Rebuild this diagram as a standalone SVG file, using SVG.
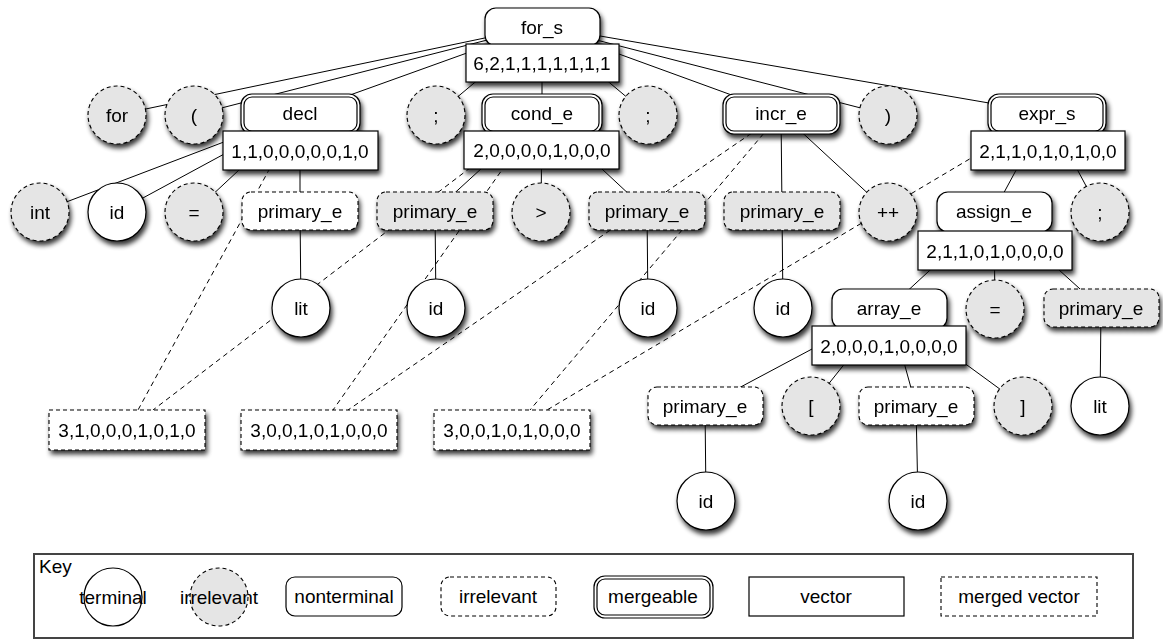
<svg xmlns="http://www.w3.org/2000/svg" width="1163" height="642" viewBox="0 0 1163 642">
<defs>
<style>
.t{font-family:"Liberation Sans",Arial,Helvetica,sans-serif;font-size:19px;text-anchor:middle;fill:#000}
.tl{font-family:"Liberation Sans",Arial,Helvetica,sans-serif;font-size:19px;text-anchor:start;fill:#000}
.term{fill:#fff;stroke:#000;stroke-width:1.2}
.irr{fill:#e5e5e5;stroke:#000;stroke-width:1.1;stroke-dasharray:4 3}
.nt{fill:#fff;stroke:#000;stroke-width:1.2}
.irrw{fill:#fff;stroke:#000;stroke-width:1.1;stroke-dasharray:4 3}
.irrg{fill:#e5e5e5;stroke:#000;stroke-width:1.1;stroke-dasharray:4 3}
.vec{fill:#fff;stroke:#000;stroke-width:1.2}
.mvec{fill:#fff;stroke:#000;stroke-width:1.1;stroke-dasharray:4 3}
.mo{fill:#fff;stroke:#000;stroke-width:1.2}
.mi{fill:none;stroke:#000;stroke-width:1.2}
.e{stroke:#000;stroke-width:1;fill:none}
.d{stroke:#000;stroke-width:1;fill:none;stroke-dasharray:5 4}
</style>
<filter id="ds" x="-30%" y="-30%" width="170%" height="180%">
<feGaussianBlur in="SourceAlpha" stdDeviation="2.5"/>
<feOffset dx="2" dy="4"/>
<feComponentTransfer><feFuncA type="linear" slope="0.8"/></feComponentTransfer>
<feMerge><feMergeNode/><feMergeNode in="SourceGraphic"/></feMerge>
</filter>
</defs>
<rect width="1163" height="642" fill="#fff"/>

<g id="connectors">
<line class="e" x1="542" y1="26" x2="117" y2="115"/>
<line class="e" x1="542" y1="26" x2="194" y2="115"/>
<line class="e" x1="542" y1="26" x2="300" y2="113"/>
<line class="e" x1="542" y1="26" x2="436" y2="115"/>
<line class="e" x1="542" y1="26" x2="542" y2="113"/>
<line class="e" x1="542" y1="26" x2="648" y2="115"/>
<line class="e" x1="542" y1="26" x2="781" y2="113"/>
<line class="e" x1="542" y1="26" x2="888" y2="115"/>
<line class="e" x1="542" y1="26" x2="1047" y2="113"/>
<line class="e" x1="300" y1="113" x2="40" y2="212"/>
<line class="e" x1="300" y1="113" x2="117" y2="212"/>
<line class="e" x1="300" y1="113" x2="194" y2="212"/>
<line class="e" x1="300" y1="113" x2="300" y2="211"/>
<line class="e" x1="542" y1="113" x2="435" y2="211"/>
<line class="e" x1="542" y1="113" x2="541" y2="212"/>
<line class="e" x1="542" y1="113" x2="647" y2="211"/>
<line class="e" x1="781" y1="113" x2="782" y2="211"/>
<line class="e" x1="781" y1="113" x2="888" y2="212"/>
<line class="e" x1="1047" y1="113" x2="994" y2="211"/>
<line class="e" x1="1047" y1="113" x2="1100" y2="212"/>
<line class="e" x1="994" y1="211" x2="889" y2="308"/>
<line class="e" x1="994" y1="211" x2="995" y2="309"/>
<line class="e" x1="994" y1="211" x2="1101" y2="308"/>
<line class="e" x1="889" y1="308" x2="705" y2="406"/>
<line class="e" x1="889" y1="308" x2="811" y2="406"/>
<line class="e" x1="889" y1="308" x2="916" y2="406"/>
<line class="e" x1="889" y1="308" x2="1023" y2="406"/>
<line class="e" x1="300" y1="211" x2="301" y2="308"/>
<line class="e" x1="435" y1="211" x2="436" y2="308"/>
<line class="e" x1="647" y1="211" x2="648" y2="308"/>
<line class="e" x1="782" y1="211" x2="783" y2="308"/>
<line class="e" x1="1101" y1="308" x2="1100" y2="406"/>
<line class="e" x1="705" y1="406" x2="706" y2="501"/>
<line class="e" x1="916" y1="406" x2="918" y2="501"/>
<line class="d" x1="300" y1="113" x2="138" y2="410"/>
<line class="d" x1="542" y1="113" x2="153" y2="410"/>
<line class="d" x1="542" y1="113" x2="333" y2="410"/>
<line class="d" x1="781" y1="113" x2="348" y2="410"/>
<line class="d" x1="781" y1="113" x2="530" y2="410"/>
<line class="d" x1="1047" y1="113" x2="547" y2="410"/>
</g>

<g id="for_s" filter="url(#ds)">
<rect class="nt" x="485" y="8" width="115" height="38" rx="11"/>
<text class="t" x="542" y="34">for_s</text>
<rect class="vec" x="466" y="44" width="153" height="38"/>
<text class="t" x="542" y="70">6,2,1,1,1,1,1,1,1</text>
</g>

<g id="for" filter="url(#ds)"><circle class="irr" cx="117" cy="115" r="29"/><text class="t" x="117" y="122">for</text></g>
<g id="lparen" filter="url(#ds)"><circle class="irr" cx="194" cy="115" r="29"/><text class="t" x="194" y="122">(</text></g>
<g id="decl" filter="url(#ds)">
<rect class="mo" x="241" y="94" width="119" height="40" rx="11"/>
<rect class="mi" x="244" y="97" width="113" height="34" rx="8"/>
<text class="t" x="300" y="120">decl</text>
<rect class="vec" x="223" y="131" width="155" height="39"/>
<text class="t" x="300" y="158">1,1,0,0,0,0,0,1,0</text>
</g>
<g id="semi1" filter="url(#ds)"><circle class="irr" cx="436" cy="115" r="29"/><text class="t" x="436" y="122">;</text></g>
<g id="cond_e" filter="url(#ds)">
<rect class="mo" x="482" y="94" width="120" height="40" rx="11"/>
<rect class="mi" x="485" y="97" width="114" height="34" rx="8"/>
<text class="t" x="542" y="120">cond_e</text>
<rect class="vec" x="464" y="131" width="155" height="38"/>
<text class="t" x="542" y="157">2,0,0,0,0,1,0,0,0</text>
</g>
<g id="semi2" filter="url(#ds)"><circle class="irr" cx="648" cy="115" r="29"/><text class="t" x="648" y="122">;</text></g>
<g id="incr_e" filter="url(#ds)">
<rect class="mo" x="723" y="94" width="117" height="40" rx="11"/>
<rect class="mi" x="726" y="97" width="111" height="34" rx="8"/>
<text class="t" x="781" y="120">incr_e</text>
</g>
<g id="rparen" filter="url(#ds)"><circle class="irr" cx="888" cy="115" r="29"/><text class="t" x="888" y="122">)</text></g>
<g id="expr_s" filter="url(#ds)">
<rect class="mo" x="988" y="94" width="118" height="40" rx="11"/>
<rect class="mi" x="991" y="97" width="112" height="34" rx="8"/>
<text class="t" x="1047" y="120">expr_s</text>
<rect class="vec" x="971" y="131" width="154" height="39"/>
<text class="t" x="1048" y="158">2,1,1,0,1,0,1,0,0</text>
</g>

<g id="int" filter="url(#ds)"><circle class="irr" cx="40" cy="212" r="29"/><text class="t" x="40" y="219">int</text></g>
<g id="id1" filter="url(#ds)"><circle class="term" cx="117" cy="212" r="29"/><text class="t" x="117" y="219">id</text></g>
<g id="eq1" filter="url(#ds)"><circle class="irr" cx="194" cy="212" r="29"/><text class="t" x="194" y="219">=</text></g>
<g id="prim1" filter="url(#ds)"><rect class="irrw" x="242" y="192" width="116" height="38" rx="9"/><text class="t" x="300" y="218">primary_e</text></g>
<g id="prim2" filter="url(#ds)"><rect class="irrg" x="377" y="192" width="116" height="38" rx="9"/><text class="t" x="435" y="218">primary_e</text></g>
<g id="gt" filter="url(#ds)"><circle class="irr" cx="541" cy="212" r="29"/><text class="t" x="541" y="219">&gt;</text></g>
<g id="prim3" filter="url(#ds)"><rect class="irrg" x="589" y="192" width="116" height="38" rx="9"/><text class="t" x="647" y="218">primary_e</text></g>
<g id="prim4" filter="url(#ds)"><rect class="irrg" x="724" y="192" width="116" height="38" rx="9"/><text class="t" x="782" y="218">primary_e</text></g>
<g id="incr" filter="url(#ds)"><circle class="irr" cx="888" cy="212" r="29"/><text class="t" x="888" y="219">++</text></g>
<g id="assign_e" filter="url(#ds)">
<rect class="nt" x="937" y="192" width="115" height="40" rx="11"/>
<text class="t" x="994" y="218">assign_e</text>
<rect class="vec" x="918" y="231" width="154" height="39"/>
<text class="t" x="995" y="258">2,1,1,0,1,0,0,0,0</text>
</g>
<g id="semi3" filter="url(#ds)"><circle class="irr" cx="1100" cy="212" r="29"/><text class="t" x="1100" y="219">;</text></g>

<g id="lit1" filter="url(#ds)"><circle class="term" cx="301" cy="308" r="29"/><text class="t" x="301" y="315">lit</text></g>
<g id="id2" filter="url(#ds)"><circle class="term" cx="436" cy="308" r="29"/><text class="t" x="436" y="315">id</text></g>
<g id="id3" filter="url(#ds)"><circle class="term" cx="648" cy="308" r="29"/><text class="t" x="648" y="315">id</text></g>
<g id="id4" filter="url(#ds)"><circle class="term" cx="783" cy="308" r="29"/><text class="t" x="783" y="315">id</text></g>
<g id="array_e" filter="url(#ds)">
<rect class="nt" x="832" y="289" width="115" height="40" rx="11"/>
<text class="t" x="889" y="315">array_e</text>
<rect class="vec" x="812" y="326" width="154" height="39"/>
<text class="t" x="889" y="353">2,0,0,0,1,0,0,0,0</text>
</g>
<g id="eq2" filter="url(#ds)"><circle class="irr" cx="995" cy="309" r="29"/><text class="t" x="995" y="316">=</text></g>
<g id="prim5" filter="url(#ds)"><rect class="irrg" x="1044" y="289" width="115" height="38" rx="9"/><text class="t" x="1101" y="315">primary_e</text></g>

<g id="prim6" filter="url(#ds)"><rect class="irrw" x="648" y="387" width="115" height="38" rx="9"/><text class="t" x="705" y="413">primary_e</text></g>
<g id="lbrack" filter="url(#ds)"><circle class="irr" cx="811" cy="406" r="29"/><text class="t" x="811" y="413">[</text></g>
<g id="prim7" filter="url(#ds)"><rect class="irrw" x="859" y="387" width="115" height="38" rx="9"/><text class="t" x="916" y="413">primary_e</text></g>
<g id="rbrack" filter="url(#ds)"><circle class="irr" cx="1023" cy="406" r="29"/><text class="t" x="1023" y="413">]</text></g>
<g id="lit2" filter="url(#ds)"><circle class="term" cx="1100" cy="406" r="29"/><text class="t" x="1100" y="413">lit</text></g>

<g id="id5" filter="url(#ds)"><circle class="term" cx="706" cy="501" r="29"/><text class="t" x="706" y="508">id</text></g>
<g id="id6" filter="url(#ds)"><circle class="term" cx="918" cy="501" r="29"/><text class="t" x="918" y="508">id</text></g>

<g id="merged1" filter="url(#ds)"><rect class="mvec" x="49" y="410" width="156" height="40"/><text class="t" x="127" y="437">3,1,0,0,0,1,0,1,0</text></g>
<g id="merged2" filter="url(#ds)"><rect class="mvec" x="241" y="410" width="156" height="40"/><text class="t" x="319" y="437">3,0,0,1,0,1,0,0,0</text></g>
<g id="merged3" filter="url(#ds)"><rect class="mvec" x="434" y="410" width="156" height="40"/><text class="t" x="512" y="437">3,0,0,1,0,1,0,0,0</text></g>

<g id="key">
<rect x="34" y="554" width="1099" height="84" fill="#fff" stroke="#444" stroke-width="2"/>
<text class="tl" x="39" y="573">Key</text>
<circle class="term" cx="113" cy="597" r="29"/>
<text class="t" x="113" y="604">terminal</text>
<circle class="irr" cx="219" cy="597" r="29"/>
<text class="t" x="219" y="604">irrelevant</text>
<rect class="nt" x="286" y="577" width="116" height="39" rx="9"/>
<text class="t" x="344" y="603">nonterminal</text>
<rect class="irrw" x="441" y="577" width="115" height="39" rx="9"/>
<text class="t" x="498" y="603">irrelevant</text>
<rect class="mo" x="594" y="576" width="119" height="42" rx="11"/>
<rect class="mi" x="597" y="579" width="113" height="36" rx="8"/>
<text class="t" x="653" y="603">mergeable</text>
<rect class="vec" x="749" y="577" width="155" height="39"/>
<text class="t" x="826" y="603">vector</text>
<rect class="mvec" x="941" y="577" width="156" height="39"/>
<text class="t" x="1019" y="603">merged vector</text>
</g>
</svg>
